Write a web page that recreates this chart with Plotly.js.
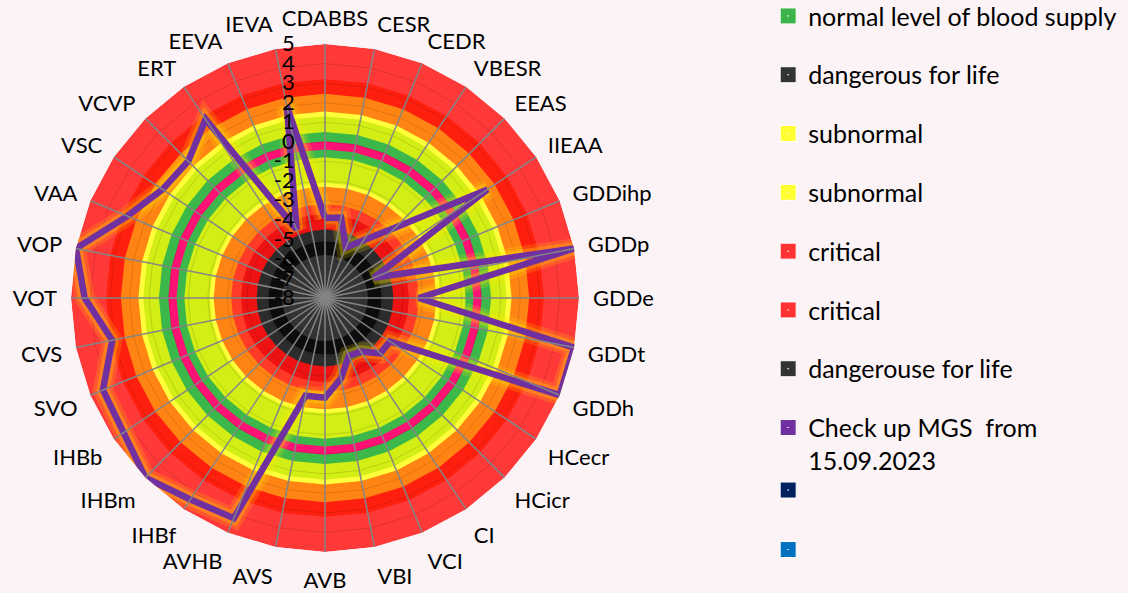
<!DOCTYPE html>
<html>
<head>
<meta charset="utf-8">
<script src="https://cdn.plot.ly/plotly-3.0.1.min.js"></script>
<style>
  html, body { margin: 0; padding: 0; background: #fbf3f6; }
  #chart { width: 1128px; height: 593px; }
</style>
</head>
<body>
<div id="chart"></div>
<script>
// ---- data ----
const categories = ['CDABBS','CESR','CEDR','VBESR','EEAS','IIEAA','GDDihp','GDDp','GDDe','GDDt','GDDh','HCecr','HCicr','CI','VCI','VBI','AVB','AVS','AVHB','IHBf','IHBm','IHBb','SVO','CVS','VOT','VOP','VAA','VSC','VCVP','ERT','EEVA','IEVA'];
const checkupValues = [-3.9,-3.8,-5.2,-4.45,-2.9,2.0,-5.3,5.0,-3.2,5.0,5.0,-4.0,-4.0,-4.7,-4.8,-3.8,-2.9,-2.9,4.2,4.4,5.0,4.4,4.3,3.1,4.3,5.0,2.95,2.0,1.9,3.0,-4.2,2.0];
const checkupName = 'Check up MGS  from<br>15.09.2023';

// zone bands (outer level of each filled ring, drawn outside-in)
const bandLevels = [5, 3.2, 2.45, 1.55, 1.3, 0.5, 0.02, -0.4, -0.8, -2.1, -2.3, -3.2, -3.7, -4.5, -5.1, -5.8];
const bandColors = ['#ff3838','#ff1f0f','#ff8414','#ffff3c','#d2ee14','#3cb84a','#ff1274','#3cb84a','#d2ee14','#ffff3c','#ff8414','#ff3a26','#ee1212','#2c2c2c','#0c0c0c','#343434'];

const radialTicks = [5,4,3,2,1,0,-1,-2,-3,-4,-5,-6,-7,-8];
const gridLevels = [4,3,2,1,0,-1,-2,-3,-4,-5,-6,-7];

const legendNames = ['normal level of blood supply','dangerous for life','subnormal','subnormal','critical','critical','dangerouse for life'];
const legendColors = ['#3cb44a','#333333','#ffff33','#ffff33','#ff3333','#ff3333','#333333'];
const extraLegendNames = [' ', ' '];
const extraLegendColors = ['#002060','#0070c0'];

const rMin = -8, rMax = 5;

// ---- traces ----
const closedTheta = categories.concat([categories[0]]);
const closedValues = checkupValues.concat([checkupValues[0]]);
const traces = [];

bandLevels.forEach((lv, i) => {
  traces.push({
    type: 'scatterpolar', mode: 'lines',
    r: closedTheta.map(() => lv), theta: closedTheta,
    fill: 'toself', fillcolor: bandColors[i],
    line: {width: 0, color: bandColors[i]},
    showlegend: false, hoverinfo: 'skip'
  });
});

gridLevels.forEach(lv => {
  traces.push({
    type: 'scatterpolar', mode: 'lines',
    r: closedTheta.map(() => lv), theta: closedTheta,
    line: {width: 1, color: 'rgba(0,0,0,0.12)'},
    showlegend: false, hoverinfo: 'skip'
  });
});

// soft glow under the series
[[20, 'rgba(255,235,0,0.18)'], [13, 'rgba(255,235,0,0.28)']].forEach(g => {
  traces.push({
    type: 'scatterpolar', mode: 'lines',
    r: closedValues, theta: closedTheta,
    line: {width: g[0], color: g[1]},
    cliponaxis: false, showlegend: false, hoverinfo: 'skip'
  });
});
traces.push({
  type: 'scatterpolar', mode: 'lines',
  r: closedValues, theta: closedTheta,
  line: {width: 6.5, color: '#7030a0'},
  cliponaxis: false, showlegend: false, name: 'Check up'
});

// spokes
const spokeR = [], spokeT = [];
categories.forEach(c => { spokeR.push(rMin, rMax, null); spokeT.push(c, c, null); });
traces.push({
  type: 'scatterpolar', mode: 'lines', r: spokeR, theta: spokeT,
  line: {width: 1.5, color: '#858585'}, connectgaps: false,
  showlegend: false, hoverinfo: 'skip'
});
// hub
traces.push({
  type: 'scatterpolar', mode: 'markers', r: [rMin], theta: [categories[0]],
  marker: {size: 20, color: '#8c8c8c', line: {width: 0}},
  showlegend: false, hoverinfo: 'skip'
});

// legend entries
legendNames.forEach((n, i) => {
  traces.push({
    type: 'scatterpolar', mode: 'markers', r: [null], theta: [null],
    name: n, legendgroup: 'g' + i,
    marker: {symbol: 'square-dot', size: 16, color: legendColors[i], line: {color: '#ffffff', width: 1}}
  });
});
traces.push({
  type: 'scatterpolar', mode: 'markers', r: [null], theta: [null],
  name: checkupName, legendgroup: 'g7',
  marker: {symbol: 'square-dot', size: 16, color: '#7030a0', line: {color: '#ffffff', width: 1}}
});
extraLegendNames.forEach((n, i) => {
  traces.push({
    type: 'scatterpolar', mode: 'markers', r: [null], theta: [null],
    name: n, legend: 'legend2', legendgroup: 'h' + i,
    marker: {symbol: 'square-dot', size: 16, color: extraLegendColors[i], line: {color: '#ffffff', width: 1}}
  });
});

const W = 1128, H = 593, cx = 325, cy = 298, R = 254;
const layout = {
  width: W, height: H,
  margin: {l: 0, r: 0, t: 0, b: 0, autoexpand: false},
  paper_bgcolor: '#fbf3f6',
  font: {family: 'Lato, "Open Sans", sans-serif', color: '#000'},
  showlegend: true,
  polar: {
    domain: {x: [(cx - R) / W, (cx + R) / W], y: [(H - cy - R) / H, (H - cy + R) / H]},
    bgcolor: 'rgba(0,0,0,0)',
    gridshape: 'linear',
    angularaxis: {
      type: 'category', categoryorder: 'array', categoryarray: categories,
      rotation: 90, direction: 'clockwise',
      showgrid: false, showline: false, ticks: 'outside', ticklen: 9, tickcolor: 'rgba(0,0,0,0)',
      tickfont: {size: 22, color: '#000', family: 'Lato, sans-serif'}
    },
    radialaxis: {
      range: [rMin, rMax], tickvals: radialTicks, ticktext: radialTicks.map(String),
      angle: 90, side: 'counterclockwise', tickangle: 90,
      showgrid: false, showline: false, ticks: 'outside', ticklen: 22, tickcolor: 'rgba(0,0,0,0)',
      layer: 'above traces',
      tickfont: {size: 22, color: '#000', family: 'Lato, sans-serif'}
    }
  },
  legend: {
    x: 0.681, xanchor: 'left', y: 1.0115, yanchor: 'top', maxheight: 700,
    bgcolor: 'rgba(0,0,0,0)', tracegroupgap: 23.3, valign: 'top',
    font: {size: 25, color: '#000', family: 'Lato, sans-serif'},
    traceorder: 'grouped'
  },
  legend2: {
    x: 0.681, xanchor: 'left', y: 0.212, yanchor: 'top', maxheight: 300,
    bgcolor: 'rgba(0,0,0,0)', tracegroupgap: 24,
    font: {size: 25, color: '#000', family: 'Lato, sans-serif'},
    traceorder: 'grouped'
  }
};

Plotly.newPlot('chart', traces, layout, {displayModeBar: false, staticPlot: true});
</script>
</body>
</html>
